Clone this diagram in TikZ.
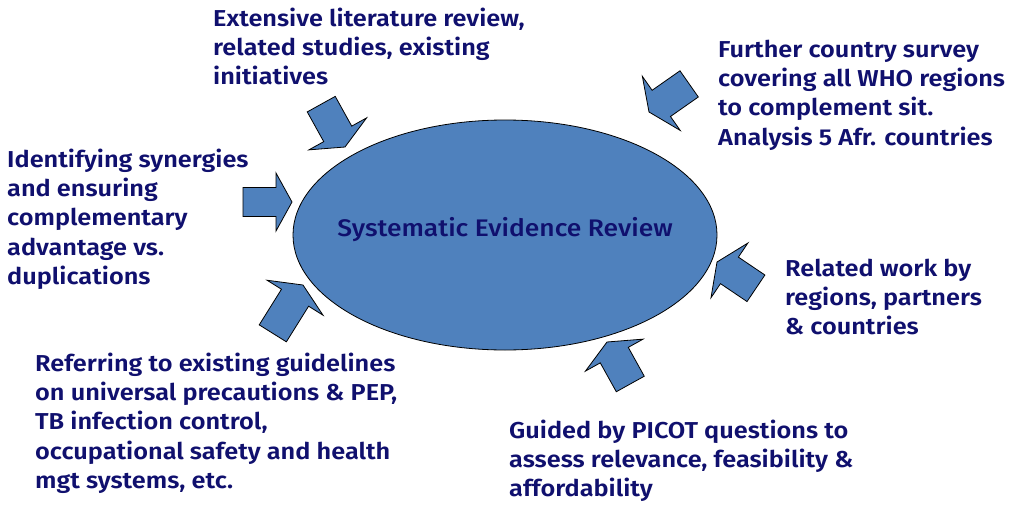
\documentclass[tikz,border=0pt]{standalone}
\usepackage{fontspec}
\setmainfont{Fira Sans}[UprightFont={* SemiBold}, FakeStretch=1.1]
\newfontfamily\centerfont{Fira Sans}[UprightFont={* Medium}, FakeStretch=1.1]
\usetikzlibrary{shapes.geometric}
\definecolor{navy}{RGB}{16,16,110}
\definecolor{blockblue}{RGB}{79,129,189}
\tikzset{
  txt/.style={anchor=base west, inner sep=0pt, align=left, text=navy,
    font=\fontsize{23}{29.4}\selectfont},
  blk/.style={fill=blockblue, draw=black, line width=0.8pt, line join=miter},
}
% tip x, tip y, screen angle, length, shaft half, head half, head length
\newcommand\blockarr[7]{%
  \begin{scope}[shift={(#1,#2)}, rotate=-#3]
    \draw[blk] (0,0) -- (-#7,#6) -- (-#7,#5) -- (-#4,#5) -- (-#4,-#5)
      -- (-#7,-#5) -- (-#7,-#6) -- cycle;
  \end{scope}}
\begin{document}
\begin{tikzpicture}[x=1pt,y=-1pt]
\useasboundingbox (0,0) rectangle (1024,511);
\node[ellipse, blk, minimum width=424pt, minimum height=230pt, inner sep=0pt] (ser) at (505,235) {};
\node[anchor=base, inner sep=0pt, text=navy, font=\centerfont\fontsize{24}{26}\selectfont] (sertext) at (505,236) {Systematic Evidence Review};

\blockarr{345}{147}{61}{49}{16}{33}{15}
\blockarr{649}{112}{145}{49}{16}{33}{15}
\blockarr{717}{262}{214}{47}{16}{33}{15}
\blockarr{607}{342}{241}{48}{16}{33}{15}
\blockarr{292}{202}{0}{49}{14.5}{29}{16}
\blockarr{303}{285}{302}{57}{16}{33}{15}

% anchors give the baseline of the last line
\node[txt] (lit) at (213,84.8) {Extensive literature review,\\related studies, existing\\initiatives};
\node[txt] (survey) at (718,145.2) {Further country survey\\covering all WHO regions\\to complement sit.\\Analysis 5 Afr. countries};
\node[txt] (syn) at (7,284.6) {Identifying synergies\\and ensuring\\complementary\\advantage vs.\\duplications};
\node[txt] (rel) at (785,334.8) {Related work by\\regions, partners\\\& countries};
\node[txt] (ref) at (35,488.6) {Referring to existing guidelines\\on universal precautions \& PEP,\\TB infection control,\\occupational safety and health\\mgt systems, etc.};
\node[txt] (picot) at (509,496.8) {Guided by PICOT questions to\\assess relevance, feasibility \&\\affordability};
\end{tikzpicture}
\end{document}
